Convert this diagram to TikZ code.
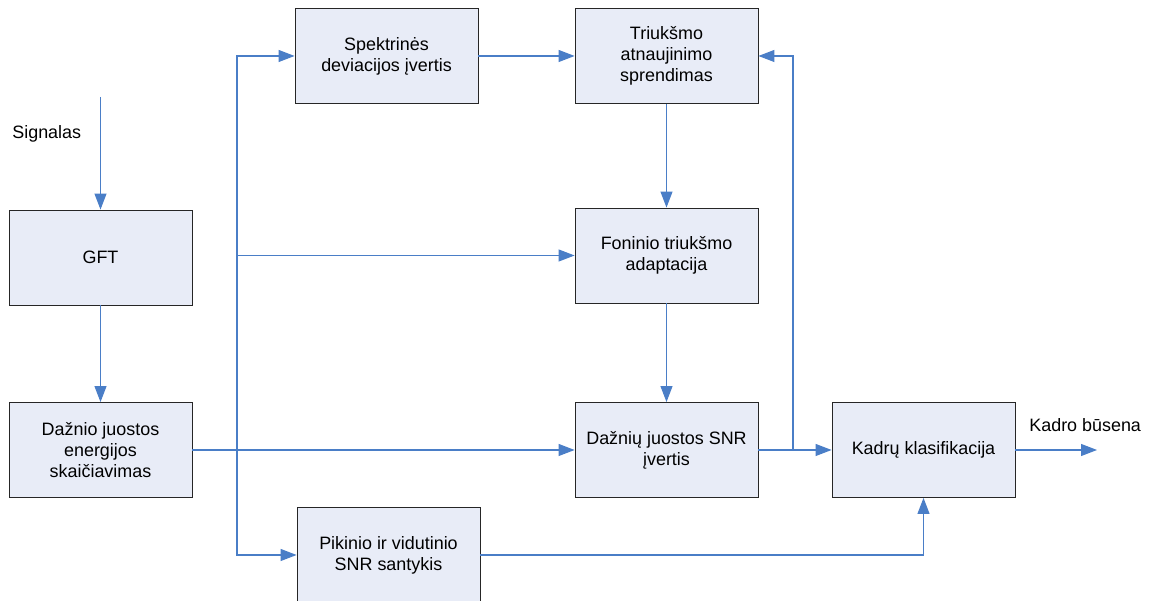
\documentclass[tikz,border=0pt]{standalone}
\usepackage{fontspec}
\setmainfont{Liberation Sans}
\usetikzlibrary{arrows.meta,positioning,calc}

\definecolor{boxfill}{HTML}{E8ECF7}
\definecolor{linkblue}{HTML}{4A7EC7}

\begin{document}
\begin{tikzpicture}[>={Triangle[length=0.32cm,width=0.24cm]}, line join=miter,
  block/.style={draw=black!85, fill=boxfill, line width=0.5pt, minimum width=3.66cm,
    minimum height=1.9cm, inner sep=0pt, align=center,
    font=\fontsize{10.2}{12}\selectfont},
  conn/.style={draw=linkblue, line width=0.6pt, ->},
  lbl/.style={font=\fontsize{10.2}{12}\selectfont, inner sep=0pt}]

\useasboundingbox (0,0) rectangle (22.98,12.02);

% blocks
\node[block] (gft) at (2.01,6.87) {GFT};
\node[block] (energ) at (2.01,3.02) {Dažnio juostos\\energijos\\skaičiavimas};
\node[block] (spek) at (7.73,10.90) {Spektrinės\\deviacijos įvertis};
\node[block] (triuk) at (13.33,10.90) {Triukšmo\\atnaujinimo\\sprendimas};
\node[block] (fon) at (13.33,6.91) {Foninio triukšmo\\adaptacija};
\node[block] (snr) at (13.33,3.02) {Dažnių juostos SNR\\įvertis};
\node[block] (kadr) at (18.47,3.02) {Kadrų klasifikacija};
\node[block] (pik) at (7.77,0.92) {Pikinio ir vidutinio\\SNR santykis};

% free ends and labels
\coordinate (sigin) at (2.01,10.08);
\coordinate (out) at (21.94,3.02);
\coordinate (bus) at (4.74,3.02);
\coordinate (br) at (15.86,3.02);
\node[lbl, anchor=west] (sig) at (0.24,9.34) {Signalas};
\node[lbl, anchor=west] (busena) at (20.58,3.52) {Kadro būsena};

% links
\draw[conn] (sigin) -- (gft);
\draw[conn] (gft) -- (energ);
\draw[conn] (energ.east) -- (snr.west);
\draw[conn] (bus) |- (spek.west);
\draw[conn] (bus) |- (pik.west);
\draw[conn] (bus |- fon.west) -- (fon.west);
\draw[conn] (spek) -- (triuk);
\draw[conn] (triuk) -- (fon);
\draw[conn] (fon) -- (snr);
\draw[conn] (snr) -- (kadr);
\draw[conn] (br) |- (triuk.east);
\draw[conn] (pik.east) -| (kadr.south);
\draw[conn] (kadr.east) -- (out);

\end{tikzpicture}
\end{document}
